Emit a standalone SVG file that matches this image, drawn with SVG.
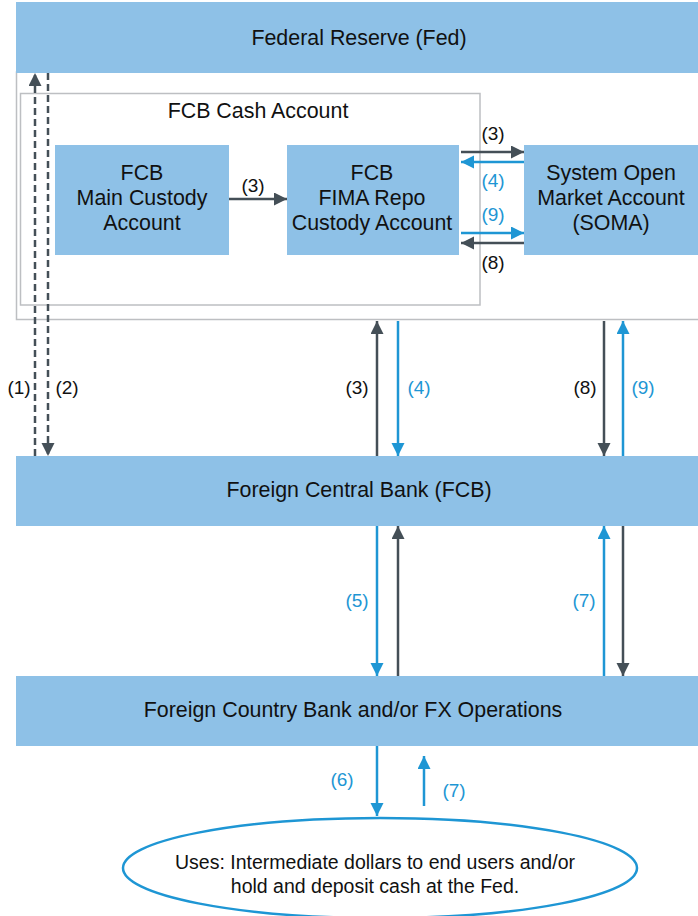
<svg xmlns="http://www.w3.org/2000/svg" width="698" height="916" viewBox="0 0 698 916">
<style>
.bar{fill:#8EC1E7}
.t{font-family:"Liberation Sans",Arial,sans-serif;font-size:21.4px;fill:#111;text-anchor:middle}
.e{font-family:"Liberation Sans",Arial,sans-serif;font-size:19.5px;fill:#111;text-anchor:middle}
.lb{font-family:"Liberation Sans",Arial,sans-serif;font-size:19px;text-anchor:middle}
.k{fill:#111}
.b{fill:#1E96D4}
.dk{stroke:#444F57;stroke-width:2.5;fill:none}
.bl{stroke:#1E96D4;stroke-width:2.5;fill:none}
.ds{stroke-dasharray:7 4}
</style>
<defs>
<marker id="ad" markerUnits="userSpaceOnUse" markerWidth="14" markerHeight="14" refX="13" refY="6.5" orient="auto"><path d="M0,0 L13,6.5 L0,13 z" fill="#444F57"/></marker>
<marker id="ab" markerUnits="userSpaceOnUse" markerWidth="14" markerHeight="14" refX="13" refY="6.5" orient="auto"><path d="M0,0 L13,6.5 L0,13 z" fill="#1E96D4"/></marker>
</defs>
<g id="fcb-cash-outer"><rect x="16.5" y="72" width="690" height="247.5" fill="#fff" stroke="#BDBFC2" stroke-width="1.5"/></g>
<g id="fcb-cash-account"><rect x="20.5" y="93.5" width="459.5" height="211.5" fill="#fff" stroke="#BDBFC2" stroke-width="1.5"/><text class="t" x="258" y="118">FCB Cash Account</text></g>
<g id="fed"><rect class="bar" x="16" y="2" width="682" height="71"/><text class="t" x="359" y="45">Federal Reserve (Fed)</text></g>
<g id="main-custody"><rect class="bar" x="55" y="145" width="174" height="110"/><text class="t" x="142" y="180">FCB</text><text class="t" x="142" y="205">Main Custody</text><text class="t" x="142" y="230">Account</text></g>
<g id="fima"><rect class="bar" x="287" y="145" width="172" height="110"/><text class="t" x="372" y="180">FCB</text><text class="t" x="372" y="205">FIMA Repo</text><text class="t" x="372" y="230">Custody Account</text></g>
<g id="soma"><rect class="bar" x="524" y="145" width="174" height="110"/><text class="t" x="611" y="180">System Open</text><text class="t" x="611" y="205">Market Account</text><text class="t" x="611" y="230">(SOMA)</text></g>
<g id="fcb"><rect class="bar" x="16" y="456" width="682" height="70"/><text class="t" x="359" y="497">Foreign Central Bank (FCB)</text></g>
<g id="fx"><rect class="bar" x="16" y="676" width="682" height="70"/><text class="t" x="353" y="717">Foreign Country Bank and/or FX Operations</text></g>
<g id="uses"><ellipse cx="380" cy="868" rx="257" ry="50" fill="#fff" stroke="#1E96D4" stroke-width="2.5"/><text class="e" x="375" y="869">Uses: Intermediate dollars to end users and/or</text><text class="e" x="375" y="893">hold and deposit cash at the Fed.</text></g>
<g id="connectors">
<line class="dk ds" x1="35" y1="456" x2="35" y2="73" marker-end="url(#ad)"/>
<line class="dk ds" x1="48" y1="73" x2="48" y2="456" marker-end="url(#ad)"/>
<text class="lb k" x="19" y="394">(1)</text><text class="lb k" x="67" y="394">(2)</text>
<line class="dk" x1="229" y1="199" x2="287" y2="199" marker-end="url(#ad)"/>
<text class="lb k" x="253" y="192">(3)</text>
<line class="dk" x1="461" y1="152" x2="524" y2="152" marker-end="url(#ad)"/>
<line class="bl" x1="524" y1="162" x2="461" y2="162" marker-end="url(#ab)"/>
<line class="bl" x1="461" y1="233" x2="524" y2="233" marker-end="url(#ab)"/>
<line class="dk" x1="524" y1="243" x2="461" y2="243" marker-end="url(#ad)"/>
<text class="lb k" x="493" y="140">(3)</text>
<text class="lb b" x="493" y="187">(4)</text>
<text class="lb b" x="493" y="221">(9)</text>
<text class="lb k" x="493" y="269">(8)</text>
<line class="dk" x1="377" y1="456" x2="377" y2="321" marker-end="url(#ad)"/>
<line class="bl" x1="398" y1="321" x2="398" y2="456" marker-end="url(#ab)"/>
<line class="dk" x1="604" y1="321" x2="604" y2="456" marker-end="url(#ad)"/>
<line class="bl" x1="623" y1="456" x2="623" y2="321" marker-end="url(#ab)"/>
<text class="lb k" x="357" y="394">(3)</text>
<text class="lb b" x="419" y="394">(4)</text>
<text class="lb k" x="585" y="394">(8)</text>
<text class="lb b" x="643" y="394">(9)</text>
<line class="bl" x1="377" y1="526" x2="377" y2="676" marker-end="url(#ab)"/>
<line class="dk" x1="398" y1="676" x2="398" y2="526" marker-end="url(#ad)"/>
<line class="bl" x1="604" y1="676" x2="604" y2="526" marker-end="url(#ab)"/>
<line class="dk" x1="623" y1="526" x2="623" y2="676" marker-end="url(#ad)"/>
<text class="lb b" x="357" y="607">(5)</text>
<text class="lb b" x="584" y="607">(7)</text>
<line class="bl" x1="377" y1="746" x2="377" y2="816" marker-end="url(#ab)"/>
<line class="bl" x1="424" y1="806" x2="424" y2="756" marker-end="url(#ab)"/>
<text class="lb b" x="342" y="786">(6)</text>
<text class="lb b" x="454" y="797">(7)</text>
</g>
</svg>
